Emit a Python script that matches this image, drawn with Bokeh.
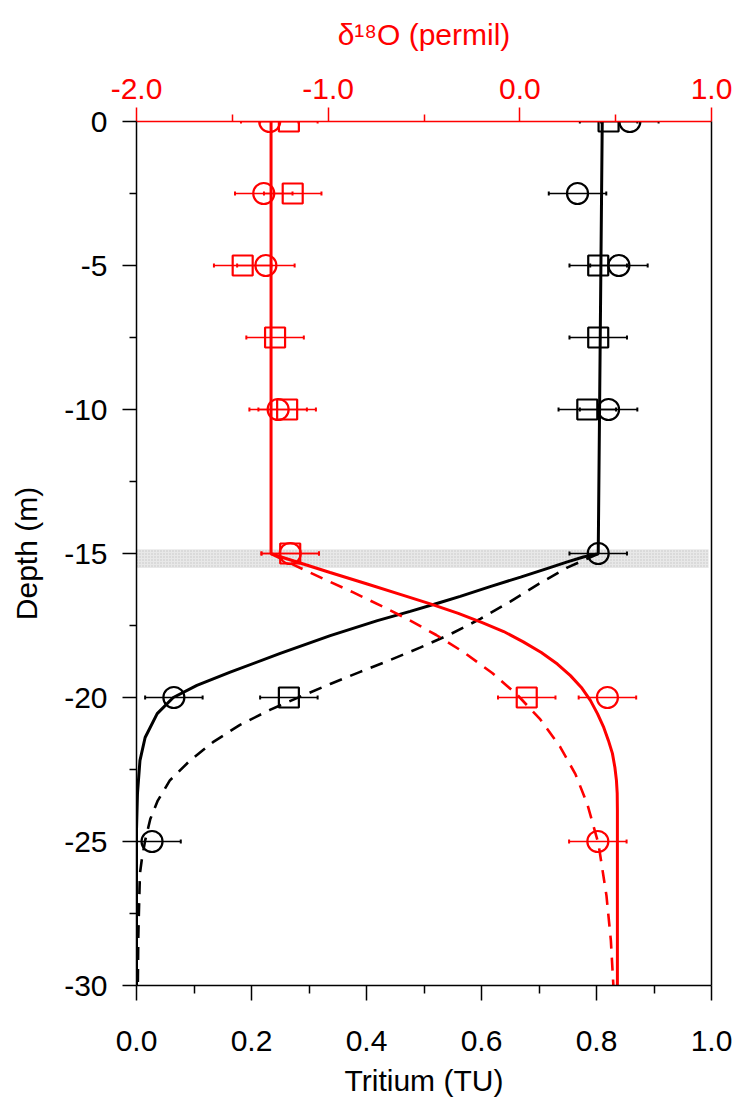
from bokeh.plotting import figure
from bokeh.models import (Range1d, LinearAxis, FixedTicker, Whisker, ColumnDataSource,
                          TeeHead, PrintfTickFormatter)
from bokeh.embed import file_html
from bokeh.resources import INLINE

# ---------------- data ----------------
# Tritium (TU), black
trit_circle_depth = [0, -2.5, -5, -10, -15, -20, -25]
trit_circle_val = [0.858, 0.767, 0.839, 0.821, 0.803, 0.065, 0.027]
trit_square_depth = [0, -5, -7.5, -10, -20]
trit_square_val = [0.821, 0.803, 0.803, 0.784, 0.265]
trit_err = 0.05

# delta 18O (permil), red
d18o_circle_depth = [0, -2.5, -5, -10, -15, -20, -25]
d18o_circle_val = [-1.305, -1.336, -1.325, -1.261, -1.198, 0.457, 0.407]
d18o_square_depth = [0, -2.5, -5, -7.5, -10, -15, -20]
d18o_square_val = [-1.205, -1.185, -1.446, -1.277, -1.214, -1.198, 0.036]
d18o_err = 0.15

# model curves
trit_solid_depth = [0, -15.01, -15.12, -15.30, -15.54, -15.82, -16.15, -16.49, -16.70, -17.01,
                    -17.33, -17.85, -18.47, -19.12, -19.58, -20.00, -20.56, -21.39, -22.19,
                    -23.33, -24.6, -30]
trit_solid_val = [0.810, 0.803, 0.777, 0.748, 0.711, 0.668, 0.615, 0.563, 0.528, 0.476,
                  0.419, 0.337, 0.250, 0.163, 0.105, 0.064, 0.036, 0.015, 0.006,
                  0.0017, 0.0, 0.0]
trit_dash_depth = [-15.01, -15.49, -16.06, -16.67, -17.27, -17.80, -18.26, -18.70, -19.11,
                   -19.53, -19.97, -20.43, -20.95, -21.55, -22.19, -22.88, -23.58, -24.22,
                   -24.97, -25.66, -26.11, -27.28, -28.32, -30.0]
trit_dash_val = [0.803, 0.749, 0.699, 0.650, 0.598, 0.546, 0.494, 0.441, 0.389,
                 0.337, 0.285, 0.232, 0.180, 0.133, 0.093, 0.058, 0.037, 0.024,
                 0.015, 0.009, 0.006, 0.0044, 0.0031, 0.0023]
d18o_solid_depth = [0, -15.01, -15.33, -15.66, -16.06, -16.42, -16.75, -17.08, -17.40, -17.71,
                    -18.07, -18.44, -18.84, -19.24, -19.65, -20.10, -20.56, -21.01, -21.49,
                    -21.94, -22.43, -22.88, -23.33, -23.92, -30]
d18o_solid_val = [-1.298, -1.298, -1.146, -0.990, -0.796, -0.624, -0.467, -0.321, -0.196,
                  -0.084, 0.018, 0.112, 0.196, 0.264, 0.321, 0.368, 0.405, 0.436, 0.462,
                  0.483, 0.496, 0.504, 0.508, 0.509, 0.509]
d18o_dash_depth = [-15.01, -15.42, -15.89, -16.35, -16.82, -17.29, -17.83, -18.44, -19.15,
                   -19.91, -20.76, -21.72, -22.66, -23.70, -25.07, -26.88, -28.44, -30.0]
d18o_dash_val = [-1.298, -1.172, -1.021, -0.869, -0.723, -0.582, -0.436, -0.290, -0.144,
                 -0.013, 0.107, 0.211, 0.290, 0.352, 0.410, 0.452, 0.475, 0.488]

band_top, band_bottom = -14.85, -15.5

depth_ticks = [0, -5, -10, -15, -20, -25, -30]
depth_minor = [-2.5, -7.5, -12.5, -17.5, -22.5, -27.5]
trit_ticks = [0.0, 0.2, 0.4, 0.6, 0.8, 1.0]
trit_minor = [0.1, 0.3, 0.5, 0.7, 0.9]
d18o_ticks = [-2.0, -1.0, 0.0, 1.0]
d18o_minor = [-1.5, -0.5, 0.5]

RED = "#ff0000"
FONT = "Liberation Sans"
FS = "30px"

p = figure(width=736, height=1107, x_range=Range1d(0, 1), y_range=Range1d(-30, 0),
           output_backend="svg", toolbar_location=None, x_axis_location=None,
           y_axis_location=None)
p.extra_x_ranges = {"d18o": Range1d(-2, 1)}
p.min_border_left = 136
p.min_border_right = 25
p.min_border_top = 121
p.min_border_bottom = 122
p.outline_line_color = None
p.xgrid.visible = False
p.ygrid.visible = False
p.background_fill_color = "white"
p.border_fill_color = "white"


def style_axis(ax, color, tick_out, minor_out, standoff):
    ax.axis_line_color = color
    ax.axis_line_width = 1.5
    ax.major_tick_line_color = color
    ax.minor_tick_line_color = color
    ax.major_tick_line_width = 1.5
    ax.minor_tick_line_width = 1.5
    ax.major_tick_in = 0
    ax.minor_tick_in = 0
    ax.major_tick_out = tick_out
    ax.minor_tick_out = minor_out
    ax.major_label_text_color = color
    ax.major_label_text_font = FONT
    ax.major_label_text_font_size = FS
    ax.major_label_standoff = standoff
    ax.axis_label_text_font = FONT
    ax.axis_label_text_font_size = FS
    ax.axis_label_text_font_style = "normal"
    ax.axis_label_text_color = color


left = LinearAxis(ticker=FixedTicker(ticks=depth_ticks, minor_ticks=depth_minor),
                  formatter=PrintfTickFormatter(format="%d"), axis_label="Depth (m)")
style_axis(left, "black", 14, 7, 15)
left.axis_label_standoff = 18
p.add_layout(left, "left")

bottom = LinearAxis(ticker=FixedTicker(ticks=trit_ticks, minor_ticks=trit_minor),
                    formatter=PrintfTickFormatter(format="%.1f"), axis_label="Tritium (TU)")
style_axis(bottom, "black", 15, 8, 30)
bottom.axis_label_standoff = 10
p.add_layout(bottom, "below")

top = LinearAxis(x_range_name="d18o",
                 ticker=FixedTicker(ticks=d18o_ticks, minor_ticks=d18o_minor),
                 formatter=PrintfTickFormatter(format="%.1f"),
                 axis_label="δ¹⁸O (permil)")
style_axis(top, RED, 14, 7, 9)
top.axis_label_standoff = 25
p.add_layout(top, "above")

right = LinearAxis(ticker=FixedTicker(ticks=[]))
style_axis(right, "black", 0, 0, 0)
right.major_label_text_font_size = "0px"
p.add_layout(right, "right")

# shaded layer
p.quad(left=[0], right=[0.995], top=[band_top], bottom=[band_bottom],
       fill_color="#e8e8e8", line_color=None, hatch_pattern="dot",
       hatch_color="#c4c4c4", hatch_scale=3, hatch_weight=1)


# error bars
def add_err(depths, vals, err, color, rng):
    src = ColumnDataSource(dict(y=depths, lo=[v - err for v in vals], hi=[v + err for v in vals]))
    w = Whisker(source=src, base="y", lower="lo", upper="hi", dimension="width",
                line_color=color, line_width=1.5, x_range_name=rng, level="glyph",
                upper_head=TeeHead(size=4, line_color=color, line_width=2),
                lower_head=TeeHead(size=4, line_color=color, line_width=2))
    p.add_layout(w)


add_err(trit_circle_depth, trit_circle_val, trit_err, "black", "default")
add_err(trit_square_depth, trit_square_val, trit_err, "black", "default")
add_err(d18o_circle_depth, d18o_circle_val, d18o_err, RED, "d18o")
add_err(d18o_square_depth, d18o_square_val, d18o_err, RED, "d18o")

# model lines
p.line(trit_solid_val, trit_solid_depth, line_color="black", line_width=3)
p.line(trit_dash_val, trit_dash_depth, line_color="black", line_width=2.6, line_dash="13 9")
p.line(d18o_solid_val, d18o_solid_depth, line_color=RED, line_width=3, x_range_name="d18o")
p.line(d18o_dash_val, d18o_dash_depth, line_color=RED, line_width=2.6, line_dash="13 9",
       x_range_name="d18o")

# markers
p.scatter(trit_circle_val, trit_circle_depth, marker="circle", size=21, fill_color=None,
          line_color="black", line_width=2.2)
p.scatter(trit_square_val, trit_square_depth, marker="square", size=20, fill_color=None,
          line_color="black", line_width=2.2)
p.scatter(d18o_circle_val, d18o_circle_depth, marker="circle", size=21, fill_color=None,
          line_color=RED, line_width=2.2, x_range_name="d18o")
p.scatter(d18o_square_val, d18o_square_depth, marker="square", size=20, fill_color=None,
          line_color=RED, line_width=2.2, x_range_name="d18o")

open("out.html", "w").write(file_html(p, INLINE))
